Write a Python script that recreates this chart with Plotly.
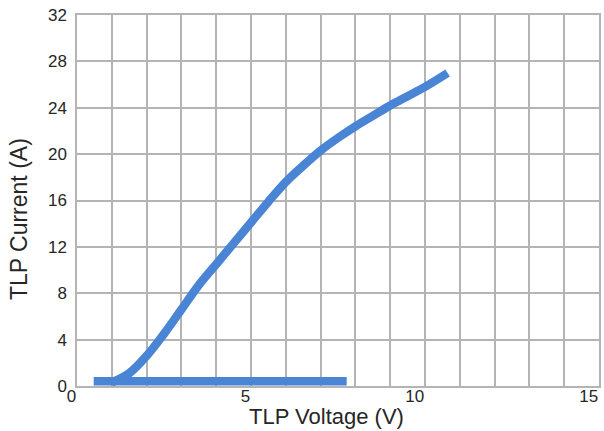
import plotly.graph_objects as go

# Data
flat_v = [0.48, 7.75]
flat_i = [0.4, 0.4]

curve_v = [1.0, 1.5, 2.0, 2.5, 3.0, 3.5, 4.0, 4.5, 5.0, 5.5, 6.0, 6.5,
           7.0, 7.5, 8.0, 8.5, 9.0, 9.5, 10.0, 10.65]
curve_i = [0.3, 1.1, 2.6, 4.5, 6.6, 8.7, 10.5, 12.3, 14.1, 15.9, 17.6, 19.0,
           20.3, 21.4, 22.4, 23.3, 24.2, 25.0, 25.8, 27.0]

x_ticks = [0, 5, 10, 15]
y_ticks = [0, 4, 8, 12, 16, 20, 24, 28, 32]

x_title = "TLP Voltage (V)"
y_title = "TLP Current (A)"

blue = "#4a84d4"
grid = "#b4b4b4"
font_color = "#262626"

fig = go.Figure()
fig.add_trace(go.Scatter(x=flat_v, y=flat_i, mode="lines",
                         line=dict(color=blue, width=8.5), showlegend=False))
fig.add_trace(go.Scatter(x=curve_v, y=curve_i, mode="lines",
                         line=dict(color=blue, width=8.5, shape="spline", smoothing=1.0),
                         showlegend=False))

fig.update_layout(
    width=604, height=431,
    margin=dict(l=77, r=5, t=15, b=45),
    paper_bgcolor="white", plot_bgcolor="white",
    font=dict(family="Liberation Sans, Arial, sans-serif", color=font_color),
    xaxis=dict(
        range=[0, 15], tickvals=x_ticks, ticktext=[str(v) for v in x_ticks],
        showgrid=True, gridcolor=grid, gridwidth=1.5,
        minor=dict(dtick=1, showgrid=True, gridcolor=grid, gridwidth=1.5),
        zeroline=False, showline=True, linecolor=grid, linewidth=1.5, mirror=True,
        tickfont=dict(size=17), ticks="", ticklabelposition="outside left",
        ticklabelstandoff=-6, automargin=False,
    ),
    yaxis=dict(
        range=[0, 32], tickvals=y_ticks, ticktext=[str(v) for v in y_ticks],
        showgrid=True, gridcolor=grid, gridwidth=1.5,
        zeroline=False, showline=True, linecolor=grid, linewidth=1.5, mirror=True,
        tickfont=dict(size=17), ticks="", ticklabelstandoff=5, automargin=False,
    ),
    annotations=[
        dict(text=x_title, xref="paper", yref="paper", x=0.478, y=-0.081,
             xanchor="center", yanchor="middle", showarrow=False,
             font=dict(size=22, color=font_color)),
        dict(text=y_title, xref="paper", yref="paper", x=-0.111, y=0.45,
             xanchor="center", yanchor="middle", textangle=-90, showarrow=False,
             font=dict(size=23, color=font_color)),
    ],
)

fig.write_html("out.html")
